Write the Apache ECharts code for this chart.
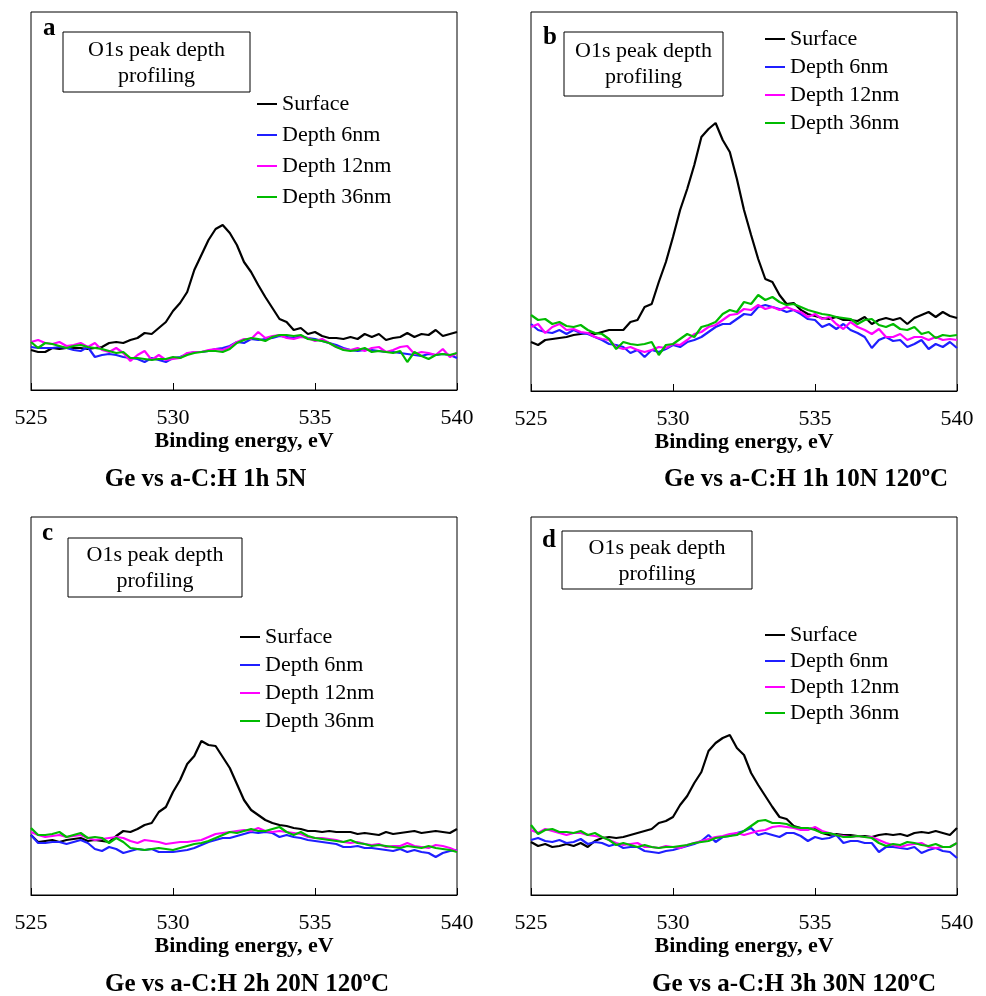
<!DOCTYPE html>
<html>
<head>
<meta charset="utf-8">
<script src="https://cdn.jsdelivr.net/npm/echarts/dist/echarts.min.js"></script>
<style>
html,body{margin:0;padding:0;background:#fff;}
#chart{width:986px;height:996px;}
</style>
</head>
<body>
<div id="chart"></div>
<script>
// Binding energy (eV)
const energies = [525,525.25,525.5,525.75,526,526.25,526.5,526.75,527,527.25,
527.5,527.75,528,528.25,528.5,528.75,529,529.25,529.5,529.75,
530,530.25,530.5,530.75,531,531.25,531.5,531.75,532,532.25,
532.5,532.75,533,533.25,533.5,533.75,534,534.25,534.5,534.75,
535,535.25,535.5,535.75,536,536.25,536.5,536.75,537,537.25,
537.5,537.75,538,538.25,538.5,538.75,539,539.25,539.5,539.75,540];

const seriesNames = ['Surface','Depth 6nm','Depth 12nm','Depth 36nm'];
const xTicks = [525,530,535,540];
const panelLetters = ['a','b','c','d'];
const panelTitles = ['Ge vs a-C:H 1h 5N','Ge vs a-C:H 1h 10N 120ºC','Ge vs a-C:H 2h 20N 120ºC','Ge vs a-C:H 3h 30N 120ºC'];
const boxLines = ['O1s peak depth','profiling'];

// Panel a (intensity, arbitrary units)
const aSurface = [40,38,38,42,41,42,42,42,41,42, 43,47,48,47,50,52,57,56,62,68, 79,87,98,120,135,150,161,165,157,145, 128,118,105,93,82,71,68,60,62,56, 58,54,52,52,51,53,51,56,53,56, 50,52,53,57,53,56,55,60,54,56, 58];
const aDepth6 = [43,42,42,42,43,42,40,39,43,33, 35,36,35,33,32,31,28,32,30,28, 32,33,36,38,38,39,41,42,44,48, 47,51,50,51,52,54,53,52,54,52, 51,49,47,45,42,40,39,40,40,39, 38,38,37,36,35,34,36,35,36,35, 32];
const aDepth12 = [48,50,47,46,48,44,45,47,43,47, 40,38,42,37,29,35,39,30,35,30, 31,32,37,38,38,40,41,40,43,48, 51,51,58,52,54,55,52,51,53,52, 49,51,47,43,41,40,42,39,42,43, 38,40,43,44,36,38,37,35,41,33, 37];
const aDepth36 = [48,42,47,46,44,42,44,45,43,42, 41,39,37,38,32,32,31,30,31,31, 33,32,35,37,38,39,39,38,41,47, 50,52,51,49,53,55,55,54,55,51, 50,49,47,43,40,39,40,42,38,39, 38,37,39,28,38,34,31,35,36,35, 37];

// Panel b
const bSurface = [49,46,51,52,53,54,56,57,58,57, 59,61,61,61,69,71,84,87,109,129, 154,181,202,226,254,262,268,251,239,212, 181,156,132,112,109,96,87,88,81,77, 75,73,72,74,71,71,70,74,67,71, 73,71,73,67,73,76,79,74,79,75, 73];
const bDepth6 = [67,61,59,58,61,57,61,58,57,54, 51,47,46,44,38,41,34,41,39,42, 46,44,49,51,54,59,64,67,67,72, 77,76,84,86,84,82,79,81,77,72, 71,64,67,62,67,61,58,54,43,51, 54,50,51,44,47,51,42,47,44,49, 43];
const bDepth12 = [64,67,58,64,67,61,62,59,58,54, 52,51,44,42,44,41,39,41,44,43, 47,46,51,57,59,64,66,71,76,77, 82,81,86,82,84,81,84,81,79,74, 77,72,74,67,62,69,64,61,57,62, 54,54,57,51,54,54,51,54,51,52, 51];
const bDepth36 = [76,71,72,67,69,65,64,66,61,58, 57,52,42,49,47,46,47,49,36,46, 47,52,57,54,64,66,69,77,81,79, 89,87,96,91,94,89,86,87,84,81, 79,77,76,74,73,72,67,71,72,66, 64,67,62,61,64,57,59,53,56,55, 56];

// Panel c
const cSurface = [60,53,54,55,53,55,56,57,54,55, 54,53,59,64,63,66,70,72,83,88, 103,115,131,139,154,150,149,138,127,111, 95,85,80,75,72,70,69,67,66,64, 64,63,64,63,63,63,61,62,61,60, 63,61,62,63,64,62,63,64,63,62, 66];
const cDepth6 = [60,52,52,53,53,51,53,55,52,46, 44,48,46,42,44,46,45,46,43,43, 43,44,45,47,50,53,55,57,57,59, 61,63,62,63,62,58,60,58,57,55, 54,53,52,51,48,48,49,47,47,46, 45,44,46,43,45,43,42,38,42,44, 45];
const cDepth12 = [63,60,58,59,60,58,59,60,57,55, 56,57,58,57,54,52,55,54,53,51, 52,53,53,54,55,58,61,62,63,64, 65,64,67,64,63,64,63,62,61,58, 57,57,56,55,53,52,53,51,50,51, 48,49,49,52,49,48,47,50,49,47, 44];
const cDepth36 = [67,60,60,61,63,58,60,62,57,58, 57,52,57,53,47,46,45,46,47,46, 45,47,49,51,52,54,57,60,63,62, 64,66,64,64,66,68,63,60,63,59, 57,56,55,54,53,55,52,51,49,50, 49,48,47,49,48,47,49,47,46,45, 43];

// Panel d
const dSurface = [53,49,51,48,49,51,49,52,48,54, 57,58,57,58,60,62,64,66,72,74, 78,90,99,112,123,144,152,157,160,147, 140,122,110,99,88,78,76,69,67,66, 67,62,60,61,60,60,59,59,58,60, 61,60,61,59,62,63,62,64,62,60, 67];
const dDepth6 = [55,57,54,53,55,52,53,56,51,53, 52,49,51,47,48,48,44,43,42,44, 45,47,49,51,54,60,53,58,59,62, 64,67,60,62,60,58,62,62,59,54, 58,56,57,60,52,54,54,52,52,43, 48,48,47,46,48,42,45,47,44,43, 37];
const dDepth12 = [65,62,66,64,62,60,62,62,60,59, 58,55,52,50,51,52,48,48,47,49, 48,47,50,52,54,56,58,59,61,62, 60,62,64,65,68,69,68,67,65,65, 68,64,62,60,59,58,59,58,58,55, 52,50,48,50,51,52,48,47,48,48, 52];
const dDepth36 = [70,61,65,66,63,63,62,64,60,62, 58,55,50,52,50,48,50,48,47,48, 48,49,50,52,53,54,57,58,59,60, 64,69,74,75,72,72,71,68,67,67, 65,62,62,60,58,58,59,58,57,52, 49,51,50,53,52,50,49,51,48,48, 52];

const panelData = [
  [aSurface,aDepth6,aDepth12,aDepth36],
  [bSurface,bDepth6,bDepth12,bDepth36],
  [cSurface,cDepth6,cDepth12,cDepth36],
  [dSurface,dDepth6,dDepth12,dDepth36]
];
const yMax = [378,379,378,378];

// ---- layout / style ----
const FONT = 'Liberation Serif, Times New Roman, serif';
const colors = ['#000000','#1f1fff','#ff00ff','#00bb00'];
const grids = [
  {left:31, top:12, width:426, height:378},
  {left:531, top:12, width:426, height:379},
  {left:31, top:517, width:426, height:378},
  {left:531, top:517, width:426, height:378}
];
const legendPos = [
  {left:257, top:93, gap:9},
  {left:765, top:28, gap:6},
  {left:240, top:626, gap:6},
  {left:765, top:624, gap:4}
];
const boxes = [
  {x:63, y:32, w:187, h:60, cx:156.5, l1:50, l2:76},
  {x:564, y:32, w:159, h:64, cx:643.5, l1:51, l2:77},
  {x:68, y:538, w:174, h:59, cx:155, l1:555, l2:581},
  {x:562, y:531, w:190, h:58, cx:657, l1:548, l2:574}
];
const letterPos = [{x:43,y:29},{x:543,y:38},{x:42,y:534},{x:542,y:541}];
const titlePos = [{x:205.5,y:480},{x:806,y:480},{x:247,y:984.5},{x:794,y:984.5}];

const option = {
  animation:false,
  backgroundColor:'#fff',
  grid: grids.map(g => Object.assign({show:true, borderColor:'#000', borderWidth:1, backgroundColor:'transparent'}, g)),
  xAxis: grids.map((g,i) => ({
    type:'value', gridIndex:i, min:525, max:540, interval:5,
    axisLine:{show:true, lineStyle:{color:'#000', width:1}},
    axisTick:{show:true, inside:true, length:7, lineStyle:{color:'#000', width:1}},
    axisLabel:{margin:17, fontFamily:FONT, fontSize:22, color:'#000',
      formatter: v => xTicks.includes(v) ? String(v) : ''},
    splitLine:{show:false},
    name:'Binding energy, eV', nameLocation:'middle', nameGap:40, nameMoveOverlap:false,
    nameTextStyle:{fontFamily:FONT, fontSize:22, fontWeight:'bold', color:'#000'}
  })),
  yAxis: grids.map((g,i) => ({
    type:'value', gridIndex:i, min:0, max:yMax[i],
    axisLine:{show:false}, axisTick:{show:false}, axisLabel:{show:false}, splitLine:{show:false}
  })),
  legend: legendPos.map(p => ({
    orient:'vertical', left:p.left, top:p.top, padding:0, itemGap:p.gap,
    itemWidth:20, itemHeight:2, itemTextGap:-3, icon:'rect',
    data: seriesNames,
    textStyle:{fontFamily:FONT, fontSize:22, color:'#000'},
    selectedMode:false
  })),
  series: [],
  graphic: []
};

panelData.forEach((arrs, p) => {
  arrs.forEach((arr, k) => {
    option.series.push({
      type:'line', name:seriesNames[k], xAxisIndex:p, yAxisIndex:p,
      data: energies.map((e,i) => [e, arr[i]]),
      symbol:'none', showSymbol:false,
      lineStyle:{color:colors[k], width:2.2},
      itemStyle:{color:colors[k]},
      z: 2 + k
    });
  });
  const b = boxes[p];
  option.graphic.push({type:'rect', shape:{x:b.x, y:b.y, width:b.w, height:b.h},
    style:{fill:'#fff', stroke:'#000', lineWidth:1}, z:10});
  option.graphic.push({type:'text', x:b.cx, y:b.l1, z:11,
    style:{text:boxLines[0], font:'22px '+FONT, fill:'#000', textAlign:'center', textVerticalAlign:'middle'}});
  option.graphic.push({type:'text', x:b.cx, y:b.l2, z:11,
    style:{text:boxLines[1], font:'22px '+FONT, fill:'#000', textAlign:'center', textVerticalAlign:'middle'}});
  option.graphic.push({type:'text', x:letterPos[p].x, y:letterPos[p].y, z:11,
    style:{text:panelLetters[p], font:'bold 25px '+FONT, fill:'#000', textAlign:'left', textVerticalAlign:'middle'}});
  option.graphic.push({type:'text', x:titlePos[p].x, y:titlePos[p].y, z:11,
    style:{text:panelTitles[p], font:'bold 25px '+FONT, fill:'#000', textAlign:'center', textVerticalAlign:'middle'}});
});

const chart = echarts.init(document.getElementById('chart'), null, {renderer:'canvas'});
chart.setOption(option);
</script>
</body>
</html>
